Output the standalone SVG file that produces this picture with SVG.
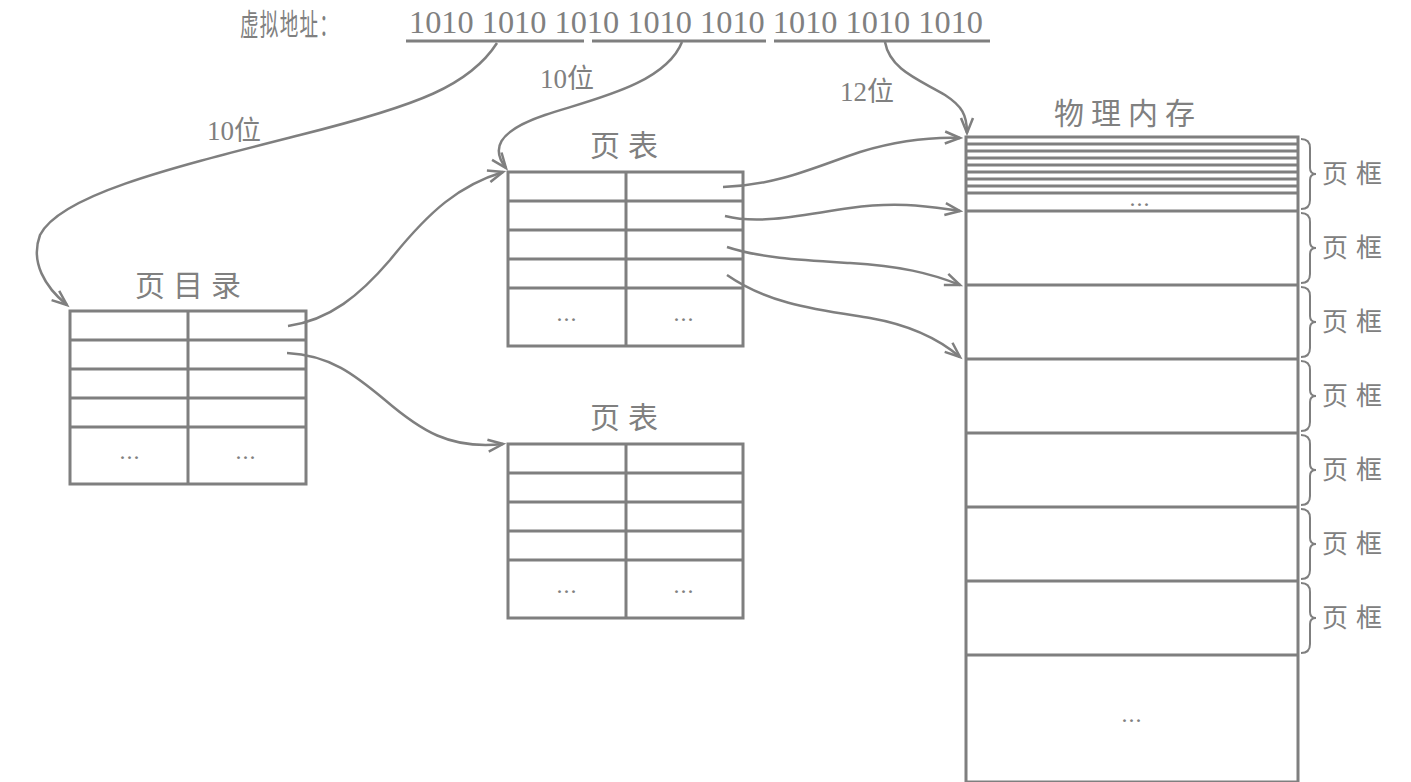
<svg xmlns="http://www.w3.org/2000/svg" width="1411" height="782" viewBox="0 0 1411 782">
<style>
.box{fill:#fff;stroke:#7f7f7f;stroke-width:3}
.ln{stroke:#7f7f7f;stroke-width:3;fill:none}
.cn{font-family:"Noto Sans CJK SC",sans-serif;fill:#808080}
.num{font-family:"Liberation Serif","Noto Sans CJK SC",serif;fill:#808080}
.dots{font-family:"Liberation Serif",serif;fill:#808080;font-size:24px;text-anchor:middle;letter-spacing:1px}
.arr{stroke:#7f7f7f;stroke-width:2.5;fill:none;marker-end:url(#ah)}
.brace{stroke:#7f7f7f;stroke-width:2;fill:none}
</style>
<defs>
<marker id="ah" markerUnits="userSpaceOnUse" markerWidth="30" markerHeight="30" refX="0" refY="0" viewBox="-20 -15 30 30" orient="auto">
<path d="M-15,-6 L0,0 L-15,6" stroke="#7f7f7f" stroke-width="2.5" fill="none"/>
</marker>
</defs>
<rect width="1411" height="782" fill="#fff"/>

<g id="vaddr">
<text transform="translate(240,35) scale(0.62,1)" class="cn" font-size="30" letter-spacing="2">虚拟地址：</text>
<text x="409" y="33" class="num" font-size="31" textLength="574" lengthAdjust="spacingAndGlyphs">1010 1010 1010 1010 1010 1010 1010 1010</text>
<line x1="406" y1="41" x2="584" y2="41" class="ln"/>
<line x1="592" y1="41" x2="766" y2="41" class="ln"/>
<line x1="774" y1="41" x2="990" y2="41" class="ln"/>
</g>

<g id="pagedir">
<text x="135" y="296" class="cn" font-size="30" letter-spacing="8">页目录</text>
<rect x="70" y="311" width="236" height="173" class="box"/>
<line x1="188" y1="311" x2="188" y2="484" class="ln"/>
<line x1="70" y1="340" x2="306" y2="340" class="ln"/>
<line x1="70" y1="369" x2="306" y2="369" class="ln"/>
<line x1="70" y1="398" x2="306" y2="398" class="ln"/>
<line x1="70" y1="427" x2="306" y2="427" class="ln"/>
<text x="130" y="459" class="dots">...</text>
<text x="246" y="459" class="dots">...</text>
</g>

<g id="pagetable1">
<text x="590" y="156" class="cn" font-size="30" letter-spacing="8">页表</text>
<rect x="508" y="172" width="235" height="174" class="box"/>
<line x1="626" y1="172" x2="626" y2="346" class="ln"/>
<line x1="508" y1="201" x2="743" y2="201" class="ln"/>
<line x1="508" y1="230" x2="743" y2="230" class="ln"/>
<line x1="508" y1="259" x2="743" y2="259" class="ln"/>
<line x1="508" y1="288" x2="743" y2="288" class="ln"/>
<text x="567" y="321" class="dots">...</text>
<text x="684" y="321" class="dots">...</text>
</g>

<g id="pagetable2">
<text x="590" y="428" class="cn" font-size="30" letter-spacing="8">页表</text>
<rect x="508" y="444" width="235" height="174" class="box"/>
<line x1="626" y1="444" x2="626" y2="618" class="ln"/>
<line x1="508" y1="473" x2="743" y2="473" class="ln"/>
<line x1="508" y1="502" x2="743" y2="502" class="ln"/>
<line x1="508" y1="531" x2="743" y2="531" class="ln"/>
<line x1="508" y1="560" x2="743" y2="560" class="ln"/>
<text x="567" y="593" class="dots">...</text>
<text x="684" y="593" class="dots">...</text>
</g>

<g id="memory">
<text x="1054" y="124" class="cn" font-size="30" letter-spacing="7">物理内存</text>
<rect x="966" y="137" width="332" height="645" class="box"/>
<line x1="966" y1="144" x2="1298" y2="144" class="ln"/>
<line x1="966" y1="151" x2="1298" y2="151" class="ln"/>
<line x1="966" y1="158" x2="1298" y2="158" class="ln"/>
<line x1="966" y1="165" x2="1298" y2="165" class="ln"/>
<line x1="966" y1="172" x2="1298" y2="172" class="ln"/>
<line x1="966" y1="179" x2="1298" y2="179" class="ln"/>
<line x1="966" y1="186" x2="1298" y2="186" class="ln"/>
<line x1="966" y1="193" x2="1298" y2="193" class="ln"/>
<text x="1140" y="206" class="dots" font-size="20">...</text>
<line x1="966" y1="211" x2="1298" y2="211" class="ln"/>
<line x1="966" y1="285" x2="1298" y2="285" class="ln"/>
<line x1="966" y1="359" x2="1298" y2="359" class="ln"/>
<line x1="966" y1="433" x2="1298" y2="433" class="ln"/>
<line x1="966" y1="507" x2="1298" y2="507" class="ln"/>
<line x1="966" y1="581" x2="1298" y2="581" class="ln"/>
<line x1="966" y1="655" x2="1298" y2="655" class="ln"/>
<text x="1132" y="722" class="dots">...</text>
</g>

<g id="frames">
<path class="brace" d="M1301,139 Q1310,139 1310,148 L1310,168 Q1310,174 1316,174 Q1310,174 1310,180 L1310,200 Q1310,209 1301,209"/>
<path class="brace" d="M1301,213 Q1310,213 1310,222 L1310,242 Q1310,248 1316,248 Q1310,248 1310,254 L1310,274 Q1310,283 1301,283"/>
<path class="brace" d="M1301,287 Q1310,287 1310,296 L1310,316 Q1310,322 1316,322 Q1310,322 1310,328 L1310,348 Q1310,357 1301,357"/>
<path class="brace" d="M1301,361 Q1310,361 1310,370 L1310,390 Q1310,396 1316,396 Q1310,396 1310,402 L1310,422 Q1310,431 1301,431"/>
<path class="brace" d="M1301,435 Q1310,435 1310,444 L1310,464 Q1310,470 1316,470 Q1310,470 1310,476 L1310,496 Q1310,505 1301,505"/>
<path class="brace" d="M1301,509 Q1310,509 1310,518 L1310,538 Q1310,544 1316,544 Q1310,544 1310,550 L1310,570 Q1310,579 1301,579"/>
<path class="brace" d="M1301,583 Q1310,583 1310,592 L1310,612 Q1310,618 1316,618 Q1310,618 1310,624 L1310,644 Q1310,653 1301,653"/>
<text x="1322" y="183" class="cn" font-size="26" letter-spacing="8">页框</text>
<text x="1322" y="257" class="cn" font-size="26" letter-spacing="8">页框</text>
<text x="1322" y="331" class="cn" font-size="26" letter-spacing="8">页框</text>
<text x="1322" y="405" class="cn" font-size="26" letter-spacing="8">页框</text>
<text x="1322" y="479" class="cn" font-size="26" letter-spacing="8">页框</text>
<text x="1322" y="553" class="cn" font-size="26" letter-spacing="8">页框</text>
<text x="1322" y="627" class="cn" font-size="26" letter-spacing="8">页框</text>
</g>

<g id="connectors">
<path class="arr" d="M497,43 C470,85 420,105 300,135 C170,168 60,195 40,235 C30,262 45,287 67,305"/>
<path class="arr" d="M682,42 C665,85 590,100 545,115 C495,132 492,150 506,168"/>
<path class="arr" d="M885,42 C890,70 920,80 945,95 C962,106 967,115 967,133"/>
<path class="arr" d="M288,326 C330,320 360,295 390,260 C430,210 460,185 503,172"/>
<path class="arr" d="M287,353 C330,355 355,375 385,400 C420,430 450,450 503,444"/>
<path class="arr" d="M723,187 C780,185 820,165 860,152 C900,140 930,137 960,138"/>
<path class="arr" d="M725,216 C760,225 800,215 850,208 C900,201 930,207 960,211"/>
<path class="arr" d="M727,247 C760,258 800,260 850,263 C900,266 930,273 960,285"/>
<path class="arr" d="M727,275 C770,305 820,310 870,318 C910,325 940,340 960,357"/>
<text x="207" y="140" class="num" font-size="27">10位</text>
<text x="540" y="88" class="num" font-size="27">10位</text>
<text x="840" y="101" class="num" font-size="27">12位</text>
</g>
</svg>
